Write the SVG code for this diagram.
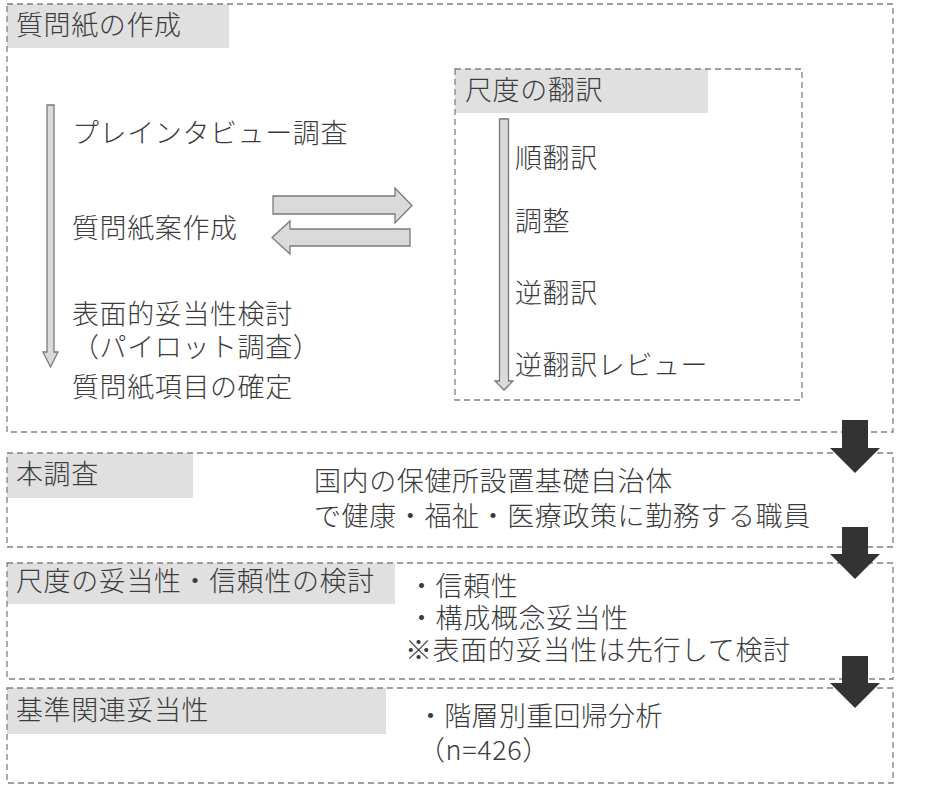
<svg xmlns="http://www.w3.org/2000/svg" width="937" height="785" viewBox="0 0 937 785">
<style>
.box{fill:none;stroke:#808080;stroke-width:1.3;stroke-dasharray:6 4}
.hdr{fill:#e0e0e0}
text{font-family:"Noto Sans CJK JP","Noto Sans CJK SC",sans-serif;font-size:27px;font-weight:300;letter-spacing:0.6px;fill:#3c3c3c}
.la{fill:#dadada;stroke:#7a7a7a;stroke-width:1.3}
.da{fill:#333333}
</style>
<rect width="937" height="785" fill="#ffffff"/>
<g id="questionnaire">
<rect class="hdr" x="7" y="4" width="222" height="44"/>
<rect class="box" x="7" y="4" width="886" height="428"/>
<text x="16" y="35">質問紙の作成</text>
<text x="72" y="143">プレインタビュー調査</text>
<text x="72" y="238">質問紙案作成</text>
<text x="72" y="324">表面的妥当性検討</text>
<text x="72" y="357">（パイロット調査）</text>
<text x="72" y="397">質問紙項目の確定</text>
</g>
<g id="translation">
<rect class="hdr" x="455" y="69" width="253" height="44"/>
<rect class="box" x="455" y="69" width="347" height="331"/>
<text x="465" y="100">尺度の翻訳</text>
<text x="515" y="168">順翻訳</text>
<text x="515" y="231">調整</text>
<text x="515" y="303">逆翻訳</text>
<text x="515" y="375">逆翻訳レビュー</text>
</g>
<g id="main-survey">
<rect class="hdr" x="7" y="453" width="186" height="45"/>
<rect class="box" x="7" y="453" width="886" height="94"/>
<text x="16" y="484">本調査</text>
<text x="314" y="491">国内の保健所設置基礎自治体</text>
<text x="314" y="526">で健康・福祉・医療政策に勤務する職員</text>
</g>
<g id="validity-reliability">
<rect class="hdr" x="7" y="563" width="388" height="41"/>
<rect class="box" x="7" y="563" width="886" height="116"/>
<text x="16" y="591">尺度の妥当性・信頼性の検討</text>
<text x="408" y="596">・信頼性</text>
<text x="408" y="628">・構成概念妥当性</text>
<text x="405" y="660">※表面的妥当性は先行して検討</text>
</g>
<g id="criterion-validity">
<rect class="hdr" x="7" y="688" width="379" height="46"/>
<rect class="box" x="7" y="688" width="886" height="95"/>
<text x="16" y="720">基準関連妥当性</text>
<text x="417" y="726" textLength="246" lengthAdjust="spacing">・階層別重回帰分析</text>
<text x="418" y="760">（n=426）</text>
</g>
<g id="connectors">
<path class="la" d="M47,105 H54 V352 H58 L50.5,367 L43,352 H47 Z"/>
<path class="la" d="M499.5,119 H508.5 V381 H513 L504,390 L495,381 H499.5 Z"/>
<path class="la" d="M273,196 H395 V188 L412,205.5 L395,223 V214 H273 Z"/>
<path class="la" d="M410,229 H290 V221 L272,237.5 L290,254 V246 H410 Z"/>
<path class="da" d="M842,420 H868 V448 H880 L855,473 L830,448 H842 Z"/>
<path class="da" d="M842,527 H868 V554 H880 L855,579 L830,554 H842 Z"/>
<path class="da" d="M842,656 H868 V683 H880 L855,708 L830,683 H842 Z"/>
</g>
</svg>
